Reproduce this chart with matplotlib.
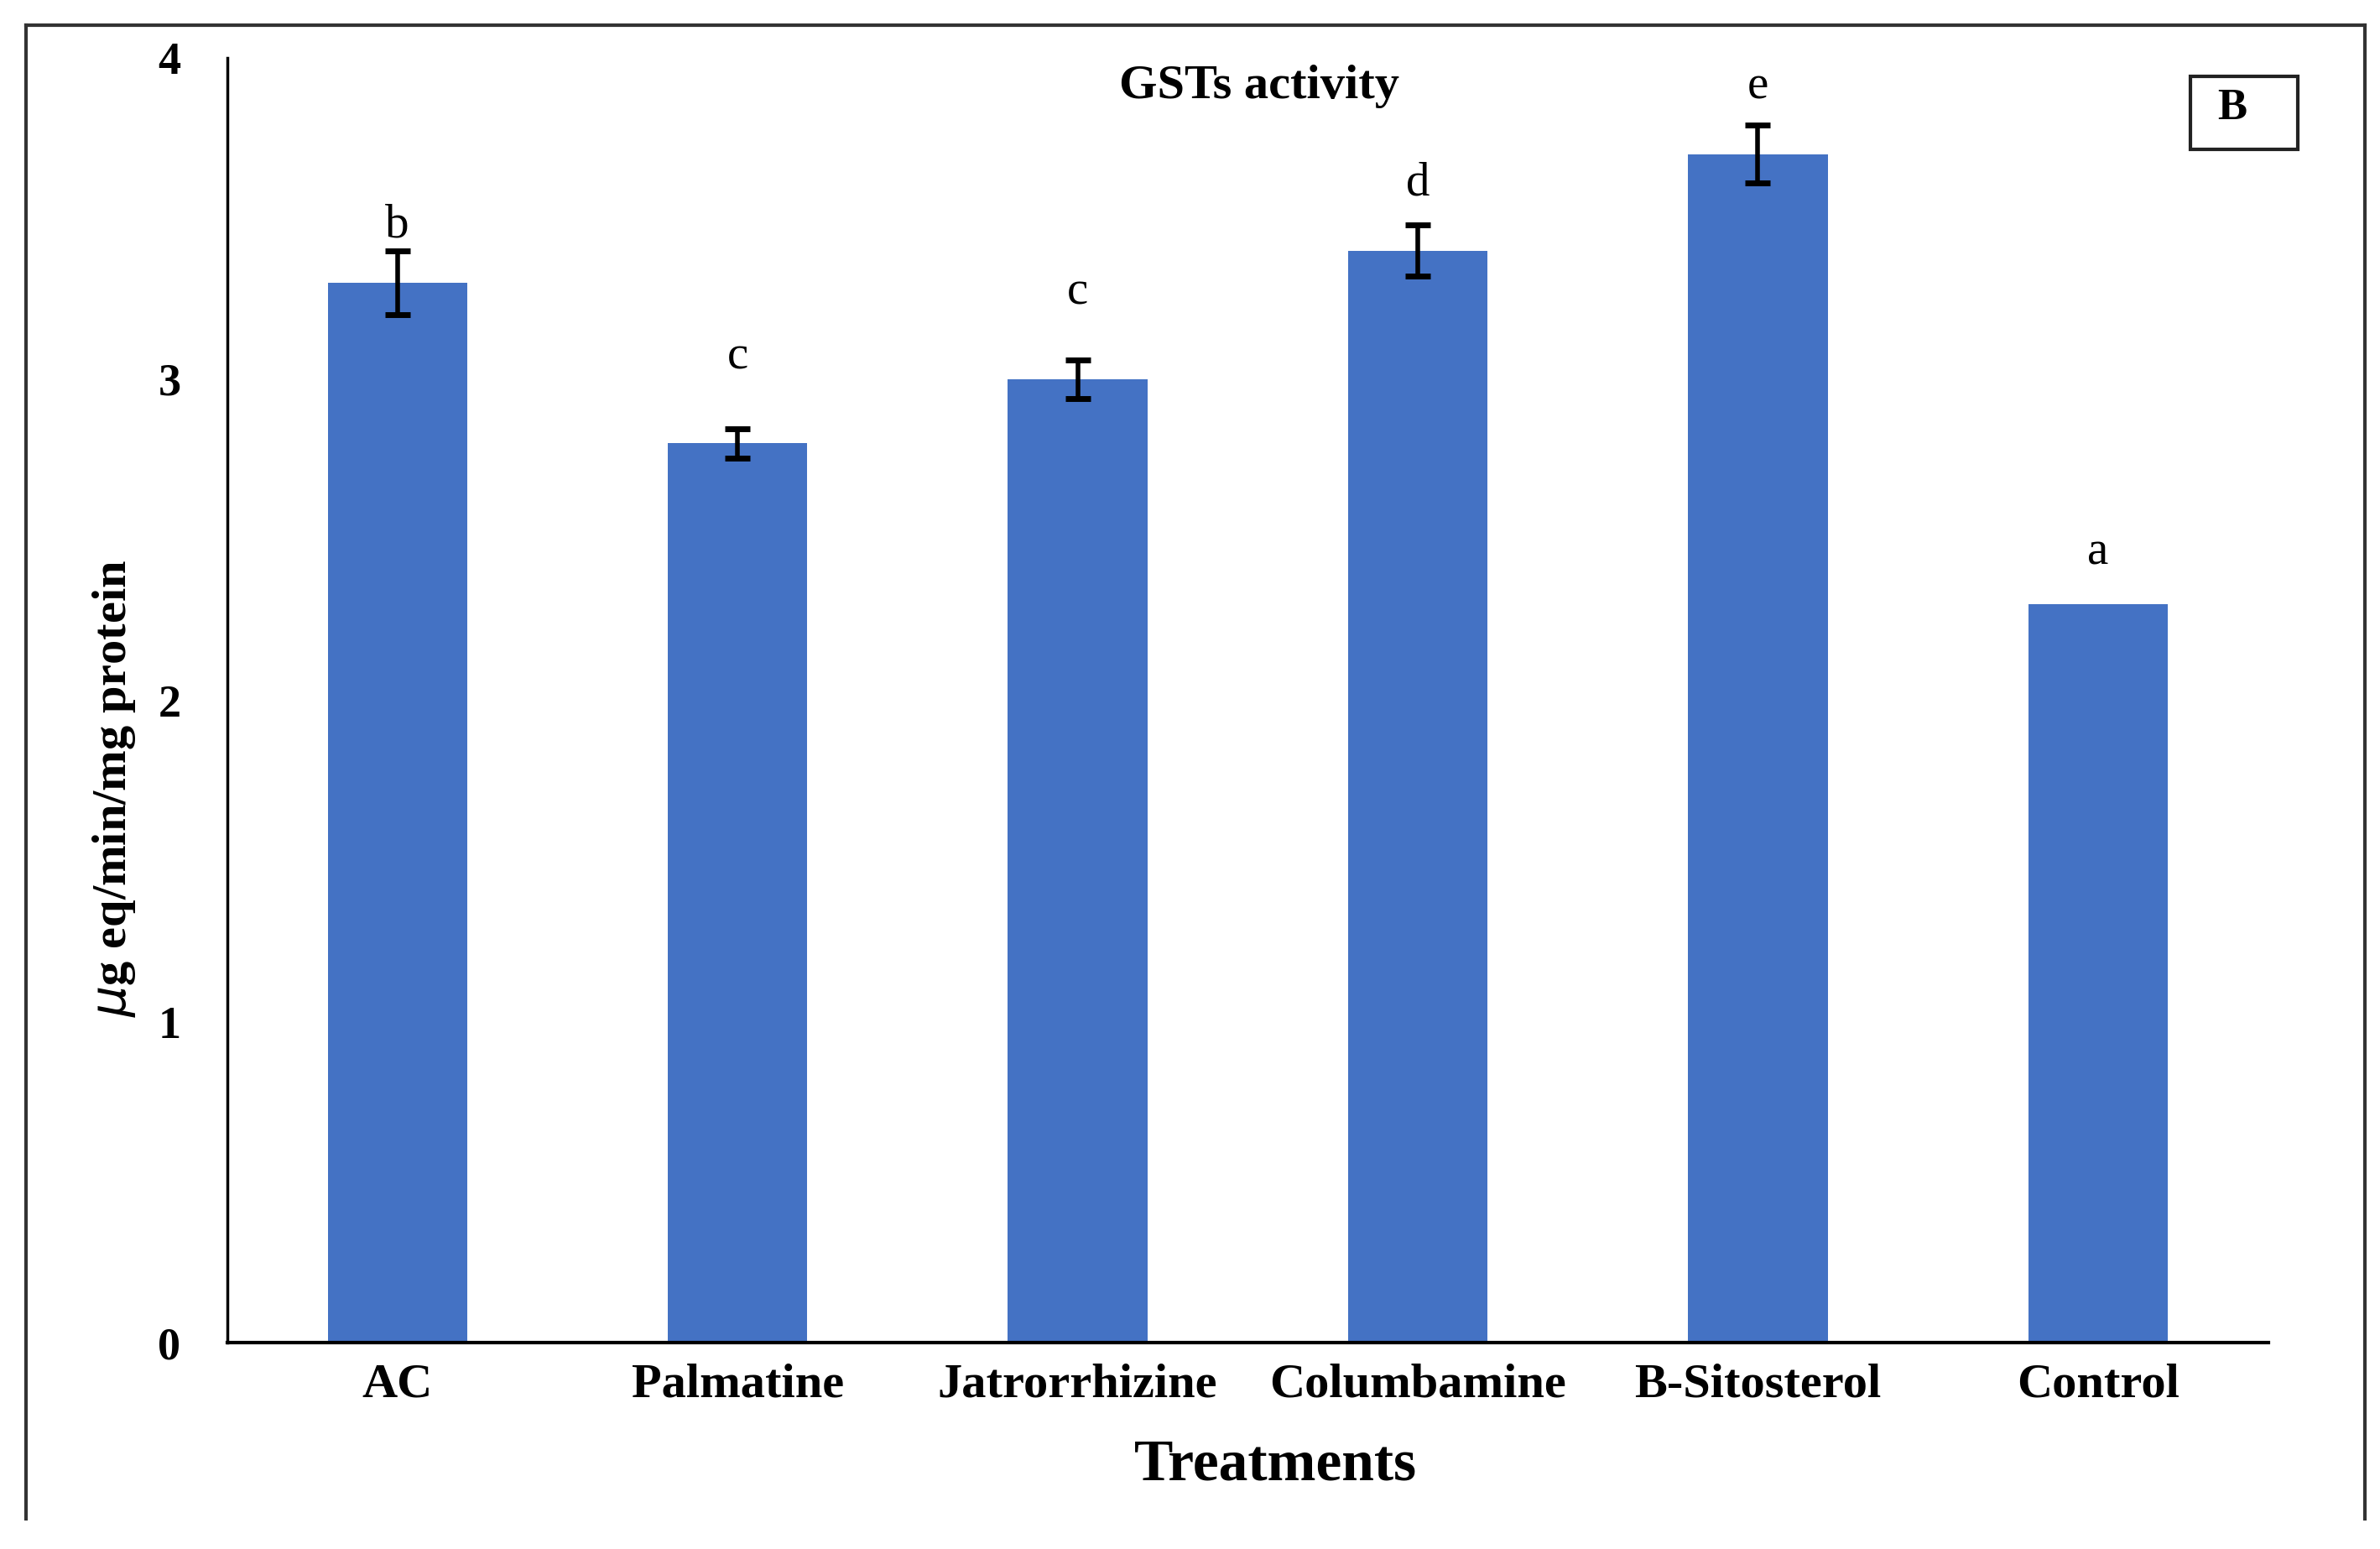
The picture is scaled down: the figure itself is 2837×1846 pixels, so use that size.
import matplotlib
matplotlib.use("Agg")
import matplotlib.pyplot as plt
from matplotlib.lines import Line2D
from matplotlib.patches import Rectangle

categories = ["AC", "Palmatine", "Jatrorrhizine", "Columbamine", "B-Sitosterol", "Control"]
values = [3.3, 2.8, 3.0, 3.4, 3.7, 2.3]
errors = [0.10, 0.045, 0.06, 0.08, 0.09, 0.0]
letters = ["b", "c", "c", "d", "e", "a"]
letter_y = [3.48, 3.07, 3.27, 3.61, 3.91, 2.46]
yticks = [0, 1, 2, 3, 4]

plt.rcParams['font.family'] = ['Liberation Serif', 'DejaVu Serif']

fig = plt.figure(figsize=(28.37, 18.46), dpi=100)
ax = fig.add_axes([0.0955, 0.133, 0.8575, 0.8296])

x = list(range(len(categories)))
ax.bar(x, values, width=0.41, color="#4472C4", zorder=2)
for xi, v, e in zip(x, values, errors):
    if e > 0:
        ax.errorbar(xi, v, yerr=e, fmt='none', ecolor='black', elinewidth=4,
                    capsize=11, capthick=5, zorder=3)
for xi, t, ly in zip(x, letters, letter_y):
    ax.text(xi, ly, t, ha='center', va='center', fontsize=41, color='black')

ax.set_xlim(-0.5, len(categories) - 0.5)
ax.set_ylim(0, 4)
ax.set_yticks(yticks)
ax.set_yticklabels([str(t) for t in yticks], fontsize=39, fontweight='bold')
ax.set_xticks(x)
ax.set_xticklabels(categories, fontsize=42, fontweight='bold')
ax.tick_params(axis='both', length=0)
ax.tick_params(axis='y', pad=40)
ax.tick_params(axis='x', pad=17)
for s in ['top', 'right']:
    ax.spines[s].set_visible(False)
ax.spines['left'].set_linewidth(2.5)
ax.spines['bottom'].set_linewidth(3)

fig.text(0.529, 0.944, "GSTs activity", ha='center', va='center', fontsize=42, fontweight='bold')
fig.text(0.536, 0.054, "Treatments", ha='center', va='center', fontsize=50, fontweight='bold')
fig.text(0.048, 0.491, r"$\mathit{\mu}$g eq/min/mg protein", ha='center', va='center',
         rotation=90, fontsize=42, fontweight='bold')

# "B" panel box
fig.patches.append(Rectangle((0.9205, 0.9035), 0.0449, 0.047, transform=fig.transFigure,
                             fill=False, edgecolor='#222222', linewidth=3))
fig.text(0.938, 0.930, "B", ha='center', va='center', fontsize=38, fontweight='bold')

# outer border (left, top, right)
border = dict(transform=fig.transFigure, color='#333333', linewidth=3)
fig.lines.append(Line2D([0.0109, 0.0109], [0.0197, 0.984], **border))
fig.lines.append(Line2D([0.0109, 0.9936], [0.984, 0.984], **border))
fig.lines.append(Line2D([0.9936, 0.9936], [0.0197, 0.984], **border))

fig.savefig("out.png", dpi=100, facecolor='white')
